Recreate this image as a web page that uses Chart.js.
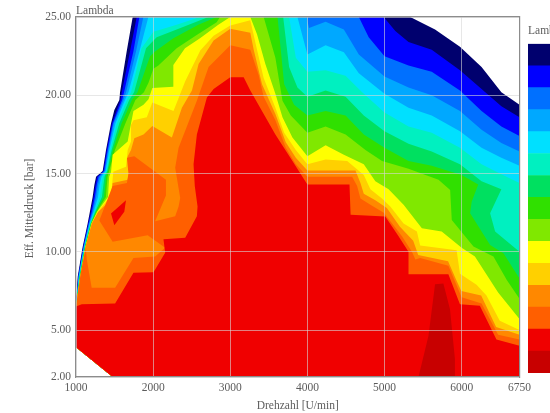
<!DOCTYPE html>
<html>
<head>
<meta charset="utf-8">
<style>
html,body{margin:0;padding:0;background:#fff;width:550px;height:413px;overflow:hidden}
#wrap{position:relative;width:550px;height:413px;overflow:hidden}
canvas{position:absolute;filter:blur(0.6px)}
#main{left:0;top:0}
#ramp{left:522px;top:22px}
</style>
<script src="https://cdn.jsdelivr.net/npm/chart.js@4"></script>
</head>
<body>
<div id="wrap"><canvas id="main" width="550" height="413"></canvas><canvas id="ramp" width="60" height="351"></canvas></div>
<script>
const xTicks=[1000,2000,3000,4000,5000,6000,6750];
const yTicks=[2,5,10,15,20,25];
const closeRpm=[6750,1476,1000];
const closeBar=[2,2,3.9];

const envRpm=[1000,1022,1086,1151,1180,1216,1238,1260,1346,1389,1454,1497,1562,1571,1657,1735,5333,5655,5978,6258,6515,6750];
const envBar=[6.5,8.4,10.3,11.8,12.55,13.5,14.26,14.8,15.16,16.5,18.2,19.06,19.7,20.2,22.8,25,25,24.2,23.1,21.8,20.2,19.4];

const b1Rpm=[1000,1027,1092,1158,1192,1228,1252,1275,1355,1398,1465,1578,1593,1700,1787,4989,5140,5311,5612,5978,6258,6515,6750];
const b1Bar=[6.5,8.4,10.3,11.8,12.55,13.5,14.26,14.8,15.16,16.5,18.2,19.7,20.2,22.8,25,25,24.1,23.4,22.9,21.6,20.4,19.3,18.6];

const b2Rpm=[1000,1031,1097,1165,1205,1245,1268,1292,1365,1410,1478,1598,1623,1744,1822,4667,4795,5000,5311,5612,5978,6258,6515,6750];
const b2Bar=[6.5,8.4,10.3,11.8,12.55,13.5,14.26,14.8,15.16,16.5,18.2,19.7,20.2,22.8,25,25,23.7,22.5,21.9,21.5,20.3,19,18,17.4];

const b3Rpm=[1000,1035,1102,1172,1218,1262,1285,1310,1375,1420,1490,1615,1649,1778,1873,3990,4021,4236,4473,4667,5000,5311,5612,5978,6258,6515,6750];
const b3Bar=[6.5,8.4,10.3,11.8,12.55,13.5,14.26,14.8,15.16,16.5,18.2,19.7,20.2,22.8,25,25,24.3,24.7,24.2,22.6,21.2,20.5,20,19,17.8,16.95,16.4];

const b4Rpm=[1000,1039,1106,1178,1230,1285,1305,1330,1385,1432,1510,1635,1680,1822,1938,3871,4000,4236,4473,4667,5000,5311,5612,5978,6258,6515,6750];
const b4Bar=[6.5,8.4,10.3,11.8,12.55,13.5,14.26,14.8,15.16,16.5,18.2,19.7,20.2,22.8,25,25,22.6,23.2,22.75,21.4,20.1,19.2,18.7,17.7,16.65,16,15.5];

const b5Rpm=[1000,1042,1110,1184,1240,1310,1330,1350,1395,1445,1530,1660,1714,1850,2003,2305,2608,3763,3850,4000,4236,4495,4710,5000,5311,5612,5978,6258,6515,6750];
const b5Bar=[6.5,8.4,10.3,11.8,12.55,13.5,14.26,14.8,15.16,16.5,18.2,19.7,20.2,23,24.06,24.5,25,25,22.4,21.5,21.6,21.25,20.2,18.9,18,17.6,16.65,15.6,14.95,14.4];

const b6Rpm=[1000,1046,1114,1190,1250,1336,1355,1370,1405,1462,1560,1690,1753,1908,2046,2305,2651,2716,3686,3763,3871,4000,4236,4495,4731,5000,5311,5612,5978,6258,6515,6369,6434,6750];
const b6Bar=[6.5,8.4,10.3,11.8,12.55,13.5,14.26,14.8,15.16,16.5,18.2,19.7,20.2,23,23.7,24.2,24.87,25,25,21.8,20.5,19.9,20.3,19.9,18.7,17.7,16.9,16.4,15.6,14.5,14,12.46,11.3,10];

const b7Rpm=[1000,1049,1117,1195,1260,1362,1380,1390,1415,1480,1590,1725,1797,1960,2025,2262,2586,2824,3613,3699,3828,4000,4236,4495,4731,5000,5311,5612,6000,6215,6130,6110,6369,6542,6750];
const b7Bar=[6.5,8.4,10.3,11.8,12.55,13.5,14.26,14.8,15.16,16.5,18.2,19.7,20.2,22.5,22.8,23.64,24.5,25,25,20.7,19.4,18.7,19,18.7,17.5,16.65,15.8,15.5,14.9,14.3,13.2,12.46,10.43,9.9,8.3];

const b8Rpm=[1000,1052,1120,1198,1268,1388,1400,1410,1430,1505,1640,1770,1880,1940,2003,2068,2305,2565,2824,2867,3433,3585,3677,3785,4000,4236,4495,4753,4968,5311,5700,5851,5872,6153,6412,6585,6750];
const b8Bar=[6.5,8.4,10.3,11.8,12.55,13.5,14.26,14.8,15.16,16.5,18.2,19.7,20.2,20.8,21.7,21.9,23,23.85,24.66,25,25,22.4,19.65,18.7,17.6,18,17.5,16.5,15.8,15.3,14.6,13.95,12.03,10.33,9.7,8.2,7];

const b9Rpm=[1000,1055,1122,1202,1275,1415,1430,1454,1475,1670,1713,1745,1875,1940,1990,2264,2262,2413,2608,2845,3000,3260,3347,3455,3585,3677,3806,4000,4236,4473,4731,4881,5053,5247,5484,5741,6000,6172,6473,6750];
const b9Bar=[6.5,8.4,10.3,11.8,12.55,13.5,14.8,15.1,16.2,17.04,18.2,19,19.4,19.75,20.46,20.55,21.94,23,23.64,24.5,25,25,23.9,22,20.1,18.6,17.3,16.1,16.8,16.2,15.6,14.5,14,13,11.5,11.3,10.25,9.7,7.4,5.7];

const b10Rpm=[1000,1057,1124,1205,1283,1440,1466,1484,1648,1670,1713,1713,1745,1918,1990,2264,2416,2611,2784,3000,3260,3347,3433,3585,3699,3850,4000,4236,4516,4731,4817,4967,5075,5247,5420,5462,5935,5978,6193,6322,6494,6750];
const b10Bar=[6.5,8.4,10.3,11.8,12.55,13.5,14.2,15.12,15.44,16.5,17.04,18.1,18.4,18.6,19.54,19,20.9,22.86,23.8,24.46,24.8,22.9,21.1,19.2,17.6,16.5,15.6,15.9,15.8,14.9,14,13.4,12.9,11.8,11.3,10.4,10.1,8.6,7.9,7.2,5.6,5];

const b11Rpm=[1000,1060,1125,1208,1290,1445,1458,1475,1670,1691,1670,1713,1756,1875,1990,2243,2373,2503,2589,2784,3000,3260,3304,3412,3585,3720,3850,4000,4236,4623,4688,4731,4881,5030,5200,5372,5437,5824,5930,5995,6253,6447,6750];
const b11Bar=[6.5,8.4,10.3,11.8,12.55,13.3,13.7,14.4,14.6,15.1,16.08,16.5,17.25,17.5,18.04,17.3,19.2,20.3,22,23.5,24.25,24,22.9,20.7,18.8,17,16,15.2,15.2,15.2,14.4,13.7,13.3,12.8,11.6,10.7,9.8,9.4,8.2,7.5,7.2,5.2,4.7];

const b12Rpm=[1000,1060,1125,1200,1302,1475,1660,1680,1660,1756,2166,2166,2026,2286,2330,2351,2286,2330,2567,2719,3000,3260,3368,3433,3585,3720,3850,4000,4580,4645,4688,4817,4990,5226,5355,5400,5462,5828,5914,6000,6258,6473,6750];
const b12Bar=[6.5,8.6,10.25,11.5,12,14.2,14.4,15,16,16.1,14.6,13.6,11.95,12.27,12.9,13.44,15.37,16.65,19.65,21.8,23.2,22.9,21.3,19.9,18.4,16.65,15.6,14.8,14.8,14.2,13.4,13,12.5,11,10,9.5,9.6,9.1,8.1,7.1,6.7,4.7,4.4];

const pocketRpm=[1203,1140,1125,1208,1290,1302,1475,1929,2156,2026,1745,1507];
const pocketBar=[7.7,9.5,10.3,11.8,12.55,12,10.64,11.06,10.25,9.7,9.6,7.7];

const b13Rpm=[1000,1074,1507,1745,2005,2156,2134,2416,2567,2576,2540,2524,2567,2697,2784,3000,3174,3260,3585,3806,4000,4546,4560,5010,5182,5311,5311,5828,5978,6236,6451,6750];
const b13Bar=[6.5,6.65,6.7,8.66,8.7,9.94,10.8,10.9,12.27,12.9,14.2,15.6,17.5,19.86,20.4,21.15,21.15,20.3,17.5,15.8,14.3,14.3,12.37,12.26,11,10,8.56,8.56,6.65,6.55,4.4,4];

const richIslandRpm=[1648,1454,1497,1626];
const richIslandBar=[13.3,12.45,11.7,12.56];

const darkRpm=[5440,5570,5655,5763,5849,5913,5913];
const darkBar=[2,4.64,7.92,7.98,6.33,3.15,2];

const levelColors=['#00006e','#0000ff','#0070ff','#00a8ff','#00e0ff','#00f0c0','#00e060','#30e000','#80e800','#ffff00','#ffd000','#ff8800','#ff5f00','#f00000','#c80000'];

function closed(r,b){
  const rr=r.concat(closeRpm), bb=b.concat(closeBar);
  return rr.map((x,i)=>({x:x,y:bb[i]}));
}
function open(r,b){ return r.map((x,i)=>({x:x,y:b[i]})); }

const layers=[
 [closed(envRpm,envBar),levelColors[0]],
 [closed(b1Rpm,b1Bar),levelColors[1]],
 [closed(b2Rpm,b2Bar),levelColors[2]],
 [closed(b3Rpm,b3Bar),levelColors[3]],
 [closed(b4Rpm,b4Bar),levelColors[4]],
 [closed(b5Rpm,b5Bar),levelColors[5]],
 [closed(b6Rpm,b6Bar),levelColors[6]],
 [closed(b7Rpm,b7Bar),levelColors[7]],
 [closed(b8Rpm,b8Bar),levelColors[8]],
 [closed(b9Rpm,b9Bar),levelColors[9]],
 [closed(b10Rpm,b10Bar),levelColors[10]],
 [closed(b11Rpm,b11Bar),levelColors[11]],
 [closed(b12Rpm,b12Bar),levelColors[12]],
 [open(pocketRpm,pocketBar),levelColors[11]],
 [closed(b13Rpm,b13Bar),levelColors[13]],
 [open(richIslandRpm,richIslandBar),levelColors[13]],
 [open(darkRpm,darkBar),levelColors[14]]
];

Chart.defaults.font.family='"Liberation Serif",serif';
Chart.defaults.font.size=11.5;
Chart.defaults.color='#5c5c5c';
Chart.defaults.animation=false;

const gridColor='rgba(215,215,215,0.6)';
const frame='#8c8c8c';

new Chart(document.getElementById('main'),{
  type:'scatter',
  data:{datasets:layers.slice().reverse().map(l=>({
    data:l[0],showLine:true,fill:'shape',backgroundColor:l[1],borderWidth:0,pointRadius:0,tension:0
  }))},
  options:{
    responsive:false,
    events:[],
    layout:{padding:{top:0,right:30.5,left:0,bottom:0}},
    plugins:{legend:{display:false},tooltip:{enabled:false}},
    scales:{
      x:{type:'linear',min:1000,max:6750,position:'bottom',
        afterBuildTicks:s=>{s.ticks=xTicks.map(v=>({value:v}));},
        afterFit:s=>{s.height=36;},
        grid:{color:gridColor,lineWidth:1,z:1,drawTicks:false},
        border:{display:true,color:frame,width:1.2,z:2},
        ticks:{padding:4,maxRotation:0,autoSkip:false,callback:v=>String(v)},
        title:{display:true,text:'Drehzahl [U/min]',padding:{top:0,bottom:0}}},
      y:{type:'linear',min:2,max:25,position:'left',
        afterBuildTicks:s=>{s.ticks=yTicks.map(v=>({value:v}));},
        afterFit:s=>{s.width=76;},
        grid:{color:gridColor,lineWidth:1,z:1,drawTicks:false},
        border:{display:true,color:frame,width:1.2,z:2},
        ticks:{padding:5,autoSkip:false,callback:v=>Number(v).toFixed(2)},
        title:{display:true,text:'Eff. Mitteldruck [bar]        ',padding:{top:23,bottom:0}}},
      xEdge:{type:'linear',axis:'x',min:1000,max:6750,position:'top',
        afterFit:s=>{s.height=17;},
        grid:{display:false},ticks:{display:false},border:{display:true,color:frame,width:1.2,z:2},
        title:{display:true,text:'Lambda',align:'start',padding:{top:4,bottom:0}}},
      yEdge:{type:'linear',axis:'y',min:2,max:25,position:'right',
        afterFit:s=>{s.width=0;},
        grid:{display:false},ticks:{display:false},border:{display:true,color:frame,width:1.2,z:2}}
    }
  }
});

const rampOrder=levelColors.slice().reverse();
new Chart(document.getElementById('ramp'),{
  type:'bar',
  data:{labels:['Lambda'],datasets:rampOrder.map(c=>({data:[1],backgroundColor:c,borderWidth:0}))},
  options:{
    responsive:false,
    events:[],
    layout:{padding:{left:6,right:0,top:0,bottom:0}},
    datasets:{bar:{barPercentage:1,categoryPercentage:1}},
    plugins:{legend:{display:false},tooltip:{enabled:false},
      title:{display:true,text:'Lambda',align:'start',fullSize:true,padding:{top:2,bottom:6},font:{size:11.5,weight:'normal'},color:'#5c5c5c'}},
    scales:{x:{display:false,stacked:true},y:{display:false,stacked:true,min:0,max:15}}
  }
});
</script>
</body>
</html>
